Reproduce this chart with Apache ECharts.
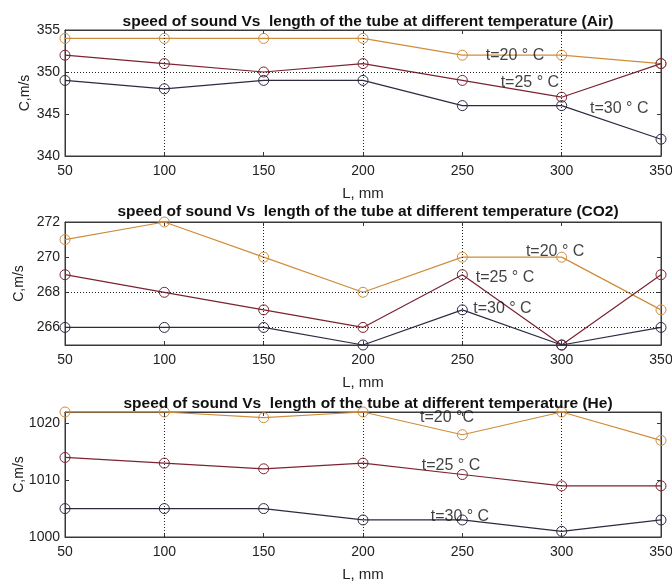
<!DOCTYPE html>
<html>
<head>
<meta charset="utf-8">
<script src="https://cdn.jsdelivr.net/npm/echarts@6/dist/echarts.min.js"></script>
<style>
html,body{margin:0;padding:0;background:#fff;}
#chart{width:672px;height:581px;}
</style>
</head>
<body>
<div id="chart"></div>
<script>
// ---- data ----
const lengths = [50, 100, 150, 200, 250, 300, 350];
const xTicks = [50, 100, 150, 200, 250, 300, 350];

const titles = [
  'speed of sound Vs  length of the tube at different temperature (Air)',
  'speed of sound Vs  length of the tube at different temperature (CO2)',
  'speed of sound Vs  length of the tube at different temperature (He)'
];
const seriesNames = ['t=20 ° C', 't=25 ° C', 't=30 ° C'];

const airT20 = [354, 354, 354, 354, 352, 352, 351];
const airT25 = [352, 351, 350, 351, 349, 347, 351];
const airT30 = [349, 348, 349, 349, 346, 346, 342];

const co2T20 = [271, 272, 270, 268, 270, 270, 267];
const co2T25 = [269, 268, 267, 266, 269, 265, 269];
const co2T30 = [266, 266, 266, 265, 267, 265, 266];

const heT20 = [1022, 1022, 1021, 1022, 1018, 1022, 1017];
const heT25 = [1014, 1013, 1012, 1013, 1011, 1009, 1009];
const heT30 = [1005, 1005, 1005, 1003, 1003, 1001, 1003];

const airYTicks = [340, 345, 350, 355];
const co2YTicks = [266, 268, 270, 272];
const heYTicks = [1000, 1010, 1020];
const yRanges = [[340, 355], [265, 272], [1000, 1022]];

// dotted grid lines present in the figure
const airGridX = [100, 200, 300];
const airGridY = [350];
const co2GridX = [150, 250];
const co2GridY = [268, 266];
const heGridX = [100, 200, 300];
const heGridY = [];

// text annotations [x, y, text] in data units
const airNotes = [[276.5, 352.0, 't=20 ° C'], [284, 348.7, 't=25 ° C'], [329, 345.7, 't=30 ° C']];
const co2Notes = [[296.7, 270.34, 't=20 ° C'], [271.5, 268.86, 't=25 ° C'], [270.2, 267.09, 't=30 ° C']];
const heNotes = [[242.3, 1020.95, 't=20 °C'], [244.3, 1012.5, 't=25 ° C'], [248.8, 1003.6, 't=30 ° C']];

// ---- build ----
const colors = ['#cf8d3c', '#7b2330', '#2b2b42'];
const panels = [
  {vals: [airT20, airT25, airT30], yTicks: airYTicks, gx: airGridX, gy: airGridY, notes: airNotes},
  {vals: [co2T20, co2T25, co2T30], yTicks: co2YTicks, gx: co2GridX, gy: co2GridY, notes: co2Notes},
  {vals: [heT20, heT25, heT30], yTicks: heYTicks, gx: heGridX, gy: heGridY, notes: heNotes}
];
const gridPos = [
  {top: 30, height: 126},
  {top: 222, height: 123},
  {top: 412, height: 125}
];
const titleTops = [9, 199, 391];
const yNameGaps = [33, 39, 39];
const FONT = 'Liberation Sans, Arial, sans-serif';
const axisColor = '#3a3a3a';

const option = {
  animation: false,
  backgroundColor: '#ffffff',
  title: [], grid: [], xAxis: [], yAxis: [], series: []
};

panels.forEach((p, i) => {
  option.title.push({
    text: titles[i], left: 363, top: titleTops[i], textAlign: 'center',
    textStyle: {fontFamily: FONT, fontSize: 15.5, fontWeight: 'bold', color: '#111'}
  });
  option.grid.push({left: 65, right: 11, top: gridPos[i].top, height: gridPos[i].height,
    containLabel: false, outerBoundsMode: 'none',
    show: true, borderColor: axisColor, borderWidth: 1, backgroundColor: '#fff'});
  const xBase = {
    type: 'value', gridIndex: i, min: 50, max: 350,
    axisLine: {show: true, onZero: false, lineStyle: {color: axisColor}},
    axisTick: {show: true, inside: true, length: 4, customValues: xTicks, lineStyle: {color: axisColor}},
    splitLine: {show: false}
  };
  option.xAxis.push(Object.assign({}, xBase, {
    position: 'bottom', name: 'L, mm', nameLocation: 'middle', nameGap: 30, nameMoveOverlap: false,
    nameTextStyle: {fontFamily: FONT, fontSize: 15, color: '#222'},
    axisLabel: {show: true, customValues: xTicks, margin: 8, fontFamily: FONT, fontSize: 14, color: '#222',
      formatter: v => String(v)}
  }));
  option.xAxis.push(Object.assign({}, xBase, {position: 'top', axisLabel: {show: false}}));
  const yBase = {
    type: 'value', gridIndex: i, min: yRanges[i][0], max: yRanges[i][1],
    axisLine: {show: true, onZero: false, lineStyle: {color: axisColor}},
    axisTick: {show: true, inside: true, length: 4, customValues: p.yTicks, lineStyle: {color: axisColor}},
    splitLine: {show: false}
  };
  option.yAxis.push(Object.assign({}, yBase, {
    position: 'left', name: 'C,m/s', nameLocation: 'middle', nameGap: yNameGaps[i], nameMoveOverlap: false,
    nameTextStyle: {fontFamily: FONT, fontSize: 14, color: '#222'},
    axisLabel: {show: true, customValues: p.yTicks, margin: 5, fontFamily: FONT, fontSize: 14, color: '#222',
      formatter: v => String(v)}
  }));
  option.yAxis.push(Object.assign({}, yBase, {position: 'right', axisLabel: {show: false}}));

  const xi = i * 2, yi = i * 2;
  p.vals.forEach((v, k) => {
    const s = {
      name: seriesNames[k], type: 'line', xAxisIndex: xi, yAxisIndex: yi,
      data: lengths.map((x, j) => [x, v[j]]),
      symbol: 'circle', symbolSize: 10, showAllSymbol: true, clip: true,
      itemStyle: {color: 'rgba(0,0,0,0)', borderColor: colors[k], borderWidth: 1},
      lineStyle: {color: colors[k], width: 1.2},
      z: 3 + k
    };
    if (k === 0) {
      s.markLine = {
        silent: true, symbol: 'none', label: {show: false},
        lineStyle: {color: '#222', type: [1, 2], width: 1},
        data: p.gx.map(x => ({xAxis: x})).concat(p.gy.map(y => ({yAxis: y})))
      };
    }
    option.series.push(s);
  });
  option.series.push({
    type: 'scatter', xAxisIndex: xi, yAxisIndex: yi, symbolSize: 0, silent: true,
    data: p.notes.map(n => ({value: [n[0], n[1]], name: n[2]})),
    label: {show: true, position: 'inside', formatter: d => d.name,
      fontFamily: FONT, fontSize: 16, color: '#111'},
    z: 10
  });
});

const chart = echarts.init(document.getElementById('chart'), null, {renderer: 'canvas'});
chart.setOption(option);
</script>
</body>
</html>
